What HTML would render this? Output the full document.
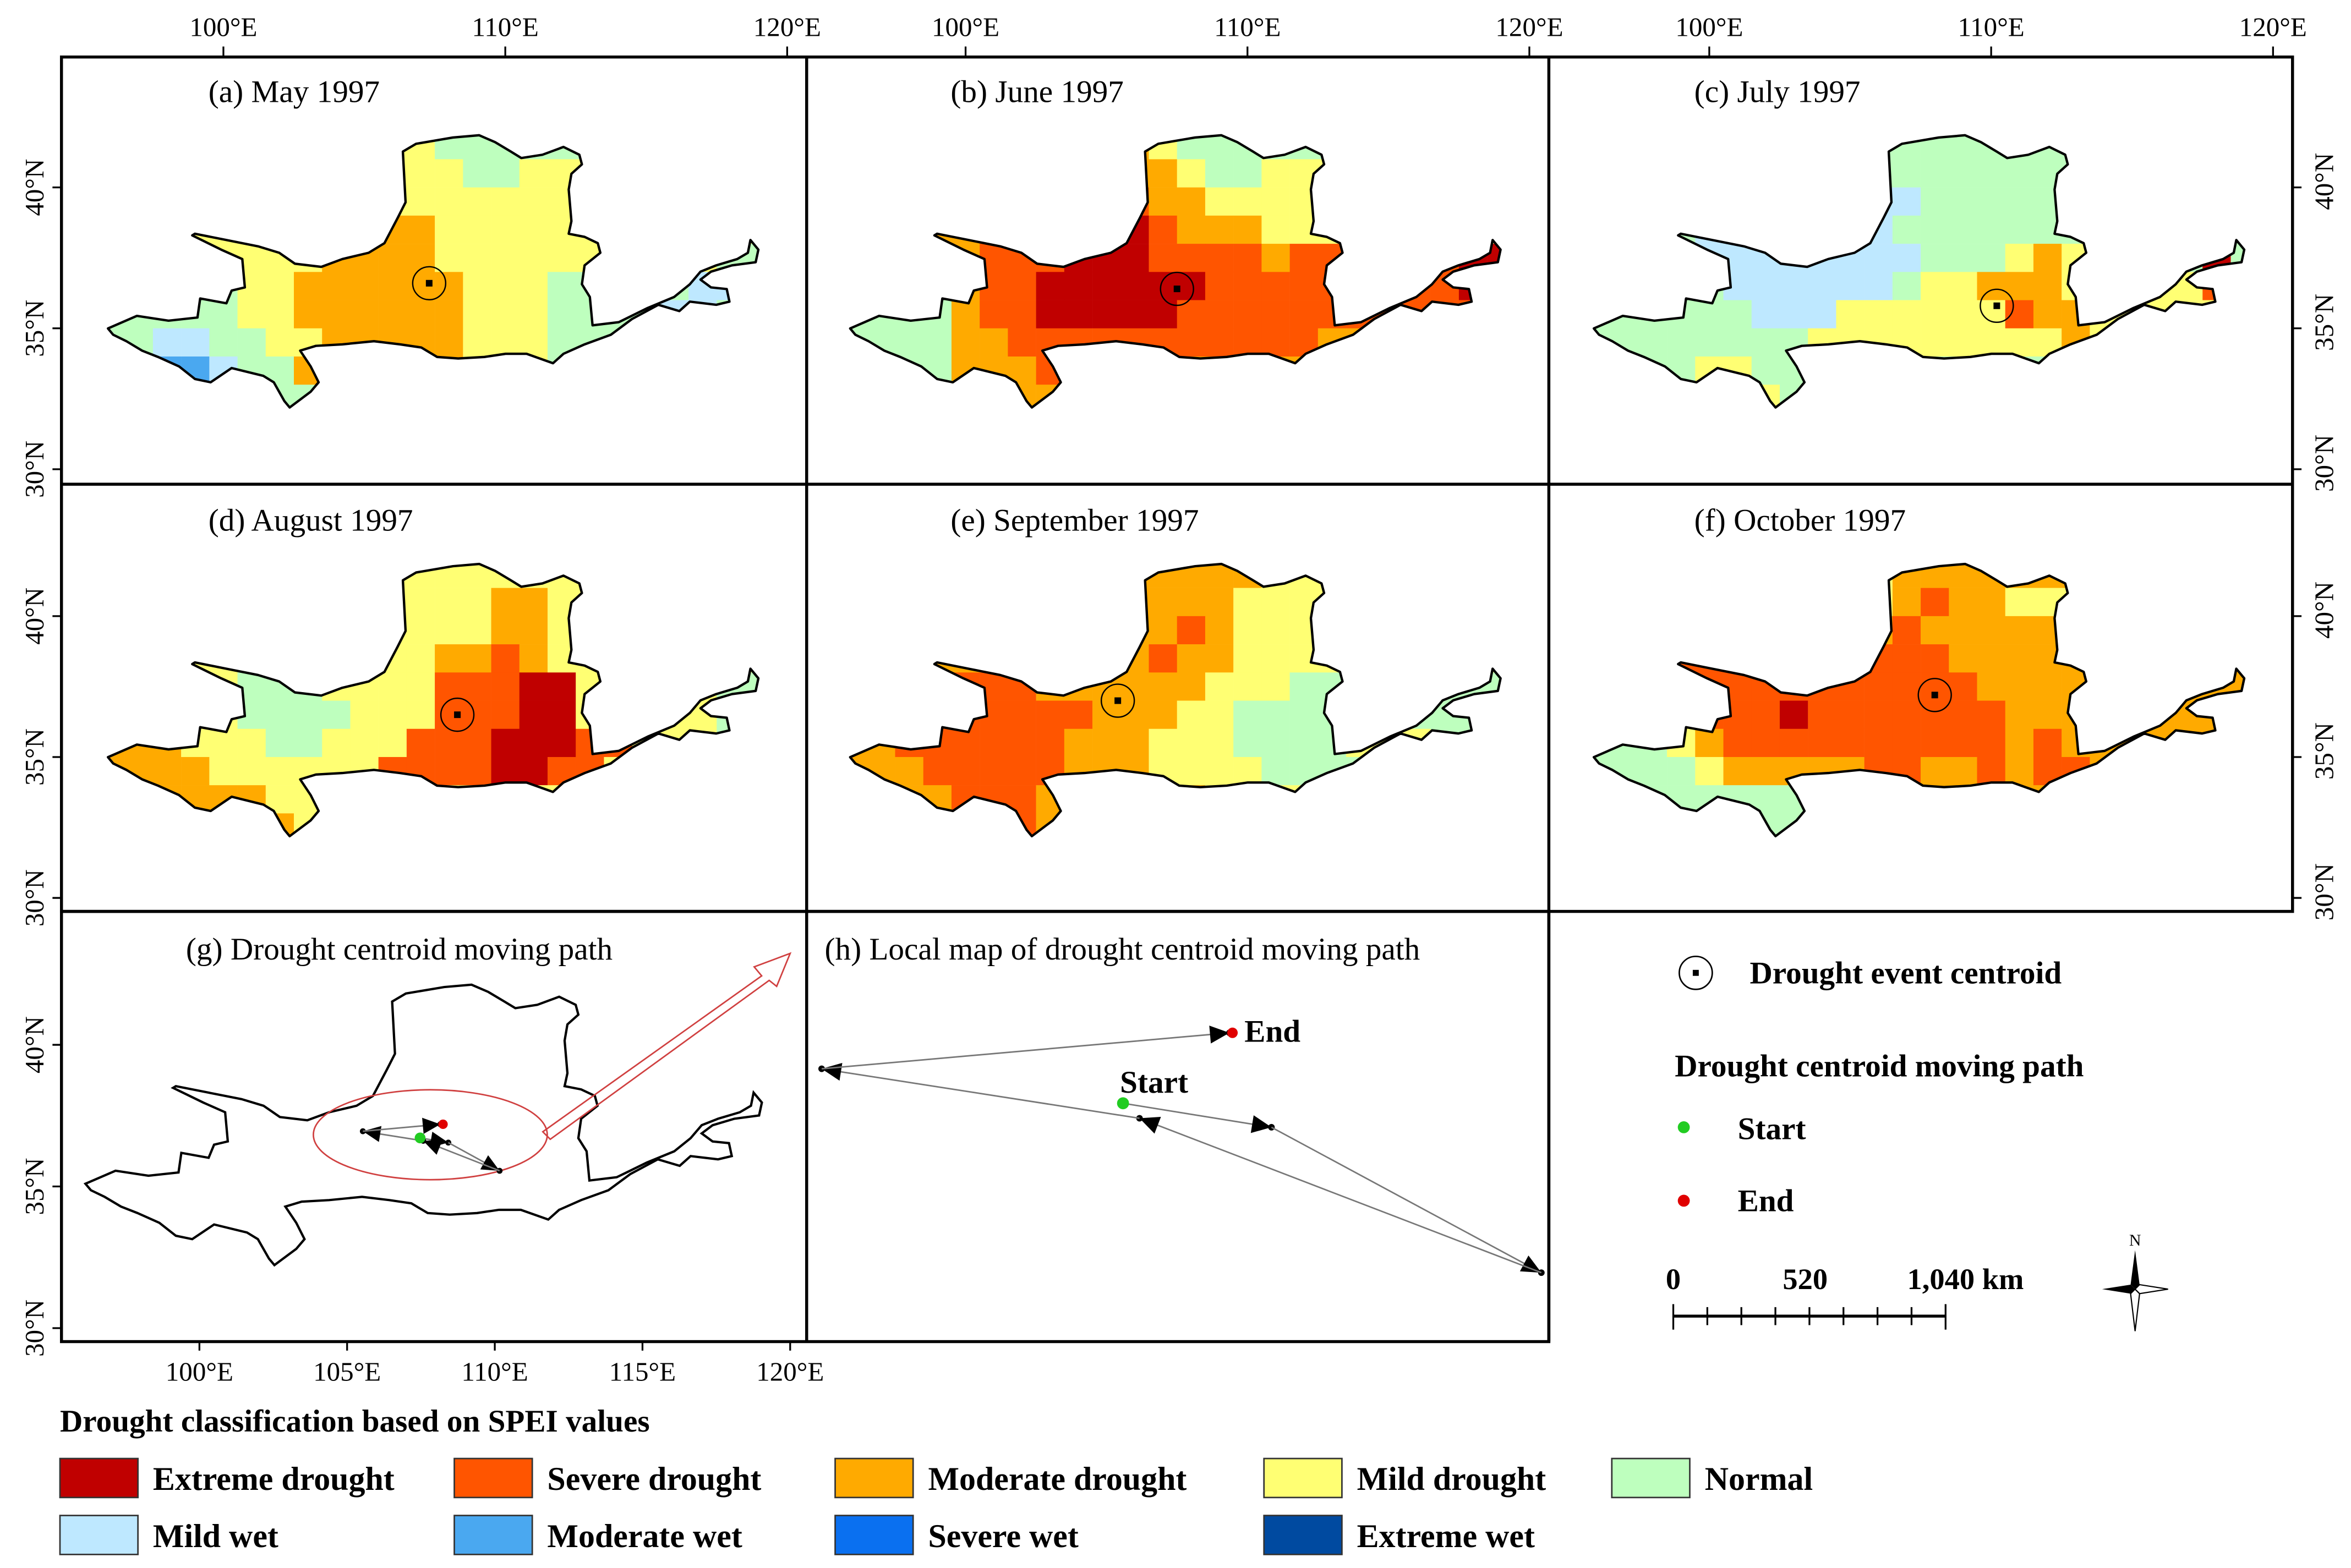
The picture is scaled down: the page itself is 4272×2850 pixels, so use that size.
<!DOCTYPE html>
<html><head><meta charset="utf-8">
<style>
html,body{margin:0;padding:0;background:#fff;}
svg{display:block;}
text{font-family:"Liberation Serif",serif;}
.b{font-weight:bold;}
</style></head>
<body>
<svg id="fig" width="4272" height="2850" viewBox="0 0 1568 1046" xmlns="http://www.w3.org/2000/svg">
<g id="root"></g>
</svg>
<script>
// Category codes -> colours
const catCodes = ['E','S','M','D','N','w','m','s','x'];
const catNames = ['Extreme drought','Severe drought','Moderate drought','Mild drought','Normal','Mild wet','Moderate wet','Severe wet','Extreme wet'];
const catColors = ['#c00000','#ff5500','#ffaa00','#ffff73','#beffbe','#bee8ff','#4aa8f0','#0a70f0','#004aa0'];
// Grid: rows lat 41.5 .. 32.5, columns lon 96 .. 119 (1 degree cells)
const gridMay = ["DDDDDDDDDDDDNNNNNNNNNNNN","DDDDDDDDDDDDDNNDDDDDDDDD","DDDDDDDDDDDDDDDDDDDDDDDD","DDDDDDDDDDMMDDDDDDDDDDDD","DDDDDDDDMMMMDDDDDDDDDDNN","NNNNNDDMMMMMMDDDNNNNNwwN","NNNNNDDMMMMMMDDDNNNNwwNN","NNwwNNDDMMMMMDDDNNNNNNNN","NwmmwNNMMMMMMDDDNNNNNNNN","NwmmwNNNNNNNNNNNNNNNNNNN"];
const gridJun = ["DDDDDDDDDDMDNNNNNNNNNNNN","MMMMMMMMMMMMDNNDDDDDDDDD","SSSSSSSSSSSMMDDDDDDDDDDD","MMMMMMMMMSESMMMDDDDDDDDD","NNNNMSSSEEESSSSMSSSSSSEE","NNNNMSSEEEEEESSSSSSSSSEE","NNNNMSSEEEEESSSSSSSSSSSS","NNNNMMSSSSSSSSSSSMMMMMMM","NNNNMMMSMMMMMMMMMMMMMMMM","NNNNNMMMMMMMMMMMMMMMMMMM"];
const gridJul = ["NNNNNNNNNNNNNNNNNNNNNNNN","NNNNNNNNNNNNNNNNNNNNNNNN","NNNNNNNNNNwwNNNNNNNNNNNN","NNNNwwwwwwwNNNNNNNNNNNNN","NNNNwwwwwwwwNNNDMDNNNNEN","NNNNNwwwwwwNDDMMMDDDDDSN","NNNNNNwwwDDDDDDSMMDDDDDN","NNNNNNNNDDDDDDDDDMDDDDDN","NNNNDDNNNNNNNNNNNNNNNNNN","NNNNDDDNNNNNNNNNNNNNNNNN"];
const gridAug = ["DDDDDDDDDDDDDDDDDDDDDDDD","DDDDDDDDDDDDDDMMDDDDDDDD","DDDDDDDDDDDDDDMMDDDDDDDD","DDDDDDDDDDDDMMSMDDDDDDDD","DDDDDNNNDDDDSSSEEDDDDDNN","MMDDDNNNNDDDSSSEEDDDDDNN","MMMDDDNNDDDSSSEEESSDDDNN","MMMMDDDDDDSSSSEESSDDDDDD","DMMMMMDDDDDDDDDDDDDDDDDD","DDDDMMMDDDDDDDDDDDDDDDDD"];
const gridSep = ["MMMMMMMMMMMMMMMDDDDDDDDD","MMMMMMMMMMMMMMDDDDDDDDDD","MMMMMMMMMMMMSMDDDDDDDDDD","MMMMMMMMMMMSMMDDDDDDDDDD","MMMMSSSMMMMMMDDDNNNNNNNN","MMMSSSSSSMMMDDNNNNNNNNNN","MMSSSSSSMMMDDDNNNNDDDNNN","MMMSSSSSMMMDDDDNNNNNNNNN","MMMMSSSMMMMMMDDDDDDDDDDD","MMMMMSSMMMMMMDDDDDDDDDDD"];
const gridOct = ["MMMMMMMMMMDMMMMMMMMMMMMM","MMMMMMMMMMDMSMMDDDDDDDDD","MMMMMMMMMMMSMMMMMMMMMMMM","SSSSSSSSSSSSSMMMMMMMMMMM","NNSSSSSSSSSSSSMMMMMMMMMM","NNNDSSSESSSSSSSMMMMMMMMM","NNNDMSSSSSSSSSSMSMMMMMMM","NNNNDMMMMMSSMMSMSSMMMMMM","NNNNNNNNNMMMMMMMMMMMMMMM","NNNNNNNNNMMMMMMMMMMMMMMM"];
const panelTitles = ['(a) May 1997','(b) June 1997','(c) July 1997','(d) August 1997','(e) September 1997','(f) October 1997'];
const panelGrids = [gridMay,gridJun,gridJul,gridAug,gridSep,gridOct];
// centroid lon/lat per month
const centroidLon = [107.3,107.5,110.2,108.3,105.4,108.0];
const centroidLat = [36.6,36.4,35.8,36.5,37.0,37.2];
const lonTicks = [100,110,120];
const latTicks = [40,35,30];
const gLonTicks = [100,105,110,115,120];
const gLatTicks = [40,35,30];
// centroid moving path (local map h), sequence start -> end
const pathX = [749,848,1028,760,548,820];
const pathY = [736,752,849,746,713,689];

const NS='http://www.w3.org/2000/svg';
const root=document.getElementById('root');
function mk(tag,attrs,parent){const e=document.createElementNS(NS,tag);for(const k in attrs)e.setAttribute(k,attrs[k]);(parent||root).appendChild(e);return e;}
function txt(str,attrs,parent){const e=mk('text',attrs,parent);e.textContent=str;return e;}
const lonX=lon=>149+(lon-100)*18.8;
const latY=lat=>125-(lat-40)*18.8;

// basin outline (traced, scaled to panel-a coords)
const outlineRaw=[[205,1040],[260,1000],[320,1015],[375,1005],[380,945],[430,960],[440,920],[465,910],[460,820],[420,790],[365,745],[370,740],[430,760],[490,780],[530,800],[560,835],[610,845],[650,820],[700,800],[730,770],[755,690],[770,640],[765,480],[790,455],[860,435],[910,428],[940,450],[970,480],[990,500],[1030,490],[1070,465],[1100,490],[1105,520],[1085,550],[1080,600],[1085,700],[1080,740],[1110,750],[1135,770],[1140,800],[1110,840],[1105,900],[1120,940],[1125,1030],[1175,1020],[1230,975],[1280,940],[1310,900],[1330,860],[1360,840],[1400,820],[1420,800],[1425,760],[1440,790],[1435,830],[1390,840],[1350,860],[1330,885],[1350,910],[1380,915],[1385,955],[1360,965],[1310,955],[1290,985],[1250,965],[1200,1010],[1160,1060],[1110,1090],[1070,1120],[1050,1150],[1000,1120],[960,1120],[920,1130],[870,1135],[830,1130],[800,1100],[760,1090],[710,1080],[650,1090],[600,1095],[570,1110],[590,1160],[605,1210],[590,1240],[550,1290],[540,1270],[520,1210],[500,1190],[440,1165],[400,1210],[370,1200],[340,1160],[300,1130],[270,1110],[240,1080],[215,1060]];
const outlinePts=outlineRaw.map(p=>(p[0]/2.847).toFixed(1)+','+(p[1]/4.746).toFixed(1)).join(' ');

const defs=mk('defs',{});
const cp=mk('clipPath',{id:'basinClip',clipPathUnits:'userSpaceOnUse'},defs);
mk('polygon',{points:outlinePts},cp);

const offX=[0,495,991], offY=[0,286];
for(let p=0;p<6;p++){
  const ox=offX[p%3], oy=offY[Math.floor(p/3)];
  const g=mk('g',{transform:`translate(${ox},${oy})`});
  
  
  const cells=mk('g',{'clip-path':'url(#basinClip)'},g);
  const grid=panelGrids[p];
  for(let r=0;r<grid.length;r++){
    for(let c=0;c<grid[r].length;c++){
      const k=catCodes.indexOf(grid[r][c]);
      const lon=96+c, lat=41.5-r;
      const rc=mk('rect',{x:lonX(lon-0.5),y:latY(lat+0.5),width:18.9,height:18.9,fill:catColors[k]},cells);
      
      
    }
  }
  const ol=mk('polygon',{points:outlinePts,fill:'none',stroke:'#000','stroke-width':1.6,'stroke-linejoin':'round'},g);
  
  
  const cx=lonX(centroidLon[p]), cy=latY(centroidLat[p]);
  const cc=mk('circle',{cx:cx,cy:cy,r:11,fill:'none',stroke:'#000','stroke-width':0.9},g);
  
  
  mk('rect',{x:cx-2.2,y:cy-2.2,width:4.4,height:4.4,fill:'#000'},g);
  const t=txt(panelTitles[p],{x:139,y:68,'font-size':21},g);
  
  
}
// frames
mk('rect',{x:41,y:38,width:1488,height:570,fill:'none',stroke:'#000','stroke-width':2});
mk('line',{x1:41,y1:323,x2:1529,y2:323,stroke:'#000','stroke-width':2});
mk('line',{x1:538,y1:38,x2:538,y2:895,stroke:'#000','stroke-width':2});
mk('line',{x1:1033,y1:38,x2:1033,y2:895,stroke:'#000','stroke-width':2});
mk('rect',{x:41,y:608,width:992,height:287,fill:'none',stroke:'#000','stroke-width':2});
// top ticks
for(const ox of offX){for(const lon of lonTicks){const x=lonX(lon)+ox;
  mk('line',{x1:x,y1:31,x2:x,y2:38,stroke:'#000','stroke-width':1.2});
  const t=txt(lon+'°E',{x:x,y:24,'font-size':18,'text-anchor':'middle'});
  }}
// lat ticks rows 1,2
for(const oy of offY){for(const lat of latTicks){const y=latY(lat)+oy;
  mk('line',{x1:35,y1:y,x2:41,y2:y,stroke:'#000','stroke-width':1.2});
  mk('line',{x1:1529,y1:y,x2:1535,y2:y,stroke:'#000','stroke-width':1.2});
  const t=txt(lat+'°N',{x:0,y:0,'font-size':18,'text-anchor':'middle',transform:`translate(29,${y}) rotate(-90)`});
  
  const t2=txt(lat+'°N',{x:0,y:0,'font-size':18,'text-anchor':'middle',transform:`translate(1556,${y-4}) rotate(-90)`});
  }}
// panel g
const gLonX=lon=>133+(lon-100)*19.7;
const gLatY=lat=>697-(lat-40)*18.9;
for(const lon of gLonTicks){const x=gLonX(lon);
  mk('line',{x1:x,y1:895,x2:x,y2:901,stroke:'#000','stroke-width':1.2});
  const t=txt(lon+'°E',{x:x,y:921,'font-size':18,'text-anchor':'middle'});
  }
for(const lat of gLatTicks){const y=gLatY(lat);
  mk('line',{x1:35,y1:y,x2:41,y2:y,stroke:'#000','stroke-width':1.2});
  const t=txt(lat+'°N',{x:0,y:0,'font-size':18,'text-anchor':'middle',transform:`translate(29,${y}) rotate(-90)`});
  }
const gg=mk('g',{});

const gol=mk('polygon',{points:outlinePts,fill:'none',stroke:'#000','stroke-width':1.5,transform:'matrix(1.04,0,0,1.03,-17.9,564)'},gg);

mk('ellipse',{cx:287,cy:757,rx:78,ry:30,fill:'none',stroke:'#d04040','stroke-width':1},gg);
mk('polygon',{points:'362,755 508,651 503,645 527,636 518,658 513,654 367,760',fill:'none',stroke:'#d04040','stroke-width':1},gg);
txt('(g) Drought centroid moving path',{x:124,y:640,'font-size':21},gg);
txt('(h) Local map of drought centroid moving path',{x:550,y:640,'font-size':21});
function drawPath(mx,my,scale,parent){
  for(let i=0;i<pathX.length-1;i++){
    const x1=mx(pathX[i]),y1=my(pathY[i]),x2=mx(pathX[i+1]),y2=my(pathY[i+1]);
    mk('line',{x1:x1,y1:y1,x2:x2,y2:y2,stroke:'#777','stroke-width':1},parent);
    const a=Math.atan2(y2-y1,x2-x1)*180/Math.PI;
    const tri=mk('polygon',{points:`0,0 ${-13*scale},${-6*scale} ${-13*scale},${6*scale}`,fill:'#000',transform:`translate(${x2},${y2}) rotate(${a})`},parent);
    
    mk('circle',{cx:x2,cy:y2,r:2.2*scale,fill:'#000'},parent);
  }
  const n=pathX.length-1;
  const s=mk('circle',{cx:mx(pathX[0]),cy:my(pathY[0]),r:4*scale,fill:'#22cc22'},parent);
  
  const e=mk('circle',{cx:mx(pathX[n])+2*scale,cy:my(pathY[n]),r:3.5*scale,fill:'#e00000'},parent);
  
}
const hg=mk('g',{});
drawPath(x=>x,y=>y,1,hg);
txt('End',{x:830,y:695,'font-size':21,class:'b'},hg);
txt('Start',{x:747,y:729,'font-size':21,class:'b'},hg);
const gp=mk('g',{});
drawPath(x=>242+(x-548)*0.19,y=>750+(y-689)*0.194,0.9,gp);
// right legend
const lg=mk('g',{});
mk('circle',{cx:1131,cy:649,r:11,fill:'none',stroke:'#000','stroke-width':1},lg);
mk('rect',{x:1129,y:647,width:4,height:4,fill:'#000'},lg);
txt('Drought event centroid',{x:1167,y:656,'font-size':21,class:'b'},lg);
txt('Drought centroid moving path',{x:1117,y:718,'font-size':21,class:'b'},lg);
mk('circle',{cx:1123,cy:752,r:4,fill:'#22cc22'},lg);
txt('Start',{x:1159,y:760,'font-size':21,class:'b'},lg);
mk('circle',{cx:1123,cy:801,r:4,fill:'#e00000'},lg);
txt('End',{x:1159,y:808,'font-size':21,class:'b'},lg);
const sb=mk('g',{});
txt('0',{x:1111,y:860,'font-size':20,class:'b'},sb);
txt('520',{x:1189,y:860,'font-size':20,class:'b'},sb);
txt('1,040 km',{x:1272,y:860,'font-size':20,class:'b'},sb);
mk('line',{x1:1116,y1:878,x2:1298,y2:878,stroke:'#000','stroke-width':2},sb);
for(let i=0;i<=8;i++){const x=1116+i*22.7;const big=(i==0||i==8);
  mk('line',{x1:x,y1:big?870:872,x2:x,y2:big?887:884,stroke:'#000','stroke-width':1.2},sb);}
const na=mk('g',{transform:'translate(1424,860)'});
mk('polygon',{points:'0,-26 3,-3 0,0 -3,-3',fill:'#000'},na);
mk('polygon',{points:'0,28 3,3 0,0 -3,3',fill:'#fff',stroke:'#000','stroke-width':0.8},na);
mk('polygon',{points:'-22,0 -3,-3 0,0 -3,3',fill:'#000'},na);
mk('polygon',{points:'22,0 3,-3 0,0 3,3',fill:'#fff',stroke:'#000','stroke-width':0.8},na);
txt('N',{x:0,y:-29,'font-size':11,'text-anchor':'middle'},na);
// classification legend
txt('Drought classification based on SPEI values',{x:40,y:955,'font-size':21,class:'b'});
const lx=[40,303,557,843,1075];
for(let i=0;i<catNames.length;i++){
  const row=i<5?0:1, col=i<5?i:i-5;
  const x=lx[col], y=row?1011:973;
  const eg=mk('g',{});
  
  
  mk('rect',{x:x,y:y,width:52,height:26,fill:catColors[i],stroke:'#333','stroke-width':1},eg);
  txt(catNames[i],{x:x+62,y:y+21,'font-size':22,class:'b'},eg);
}
</script>
</body></html>
